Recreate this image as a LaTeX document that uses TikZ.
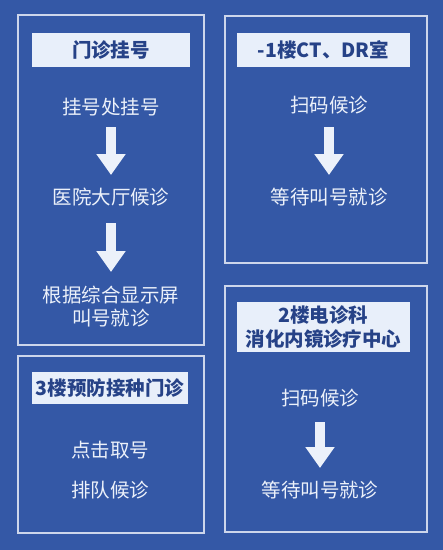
\documentclass[tikz,border=0pt]{standalone}
\usepackage{fontspec}
\usetikzlibrary{arrows.meta}
\newfontfamily\cjkfont{Noto Sans CJK SC}
\definecolor{bgblue}{RGB}{52,88,166}
\definecolor{hdrfill}{RGB}{232,239,250}
\definecolor{hdrtext}{RGB}{38,66,135}
\definecolor{txtwhite}{RGB}{236,241,250}
\definecolor{framecol}{RGB}{205,214,235}

\begin{document}
\begin{tikzpicture}[x=1pt,y=-1pt,font=\cjkfont\fontsize{19.5}{23}\selectfont,
panel/.style={draw=framecol,line width=1.2pt,inner sep=0pt},
hdr/.style={fill=hdrfill,text=hdrtext,font=\cjkfont\bfseries\fontsize{19.5}{24}\selectfont,inner sep=0pt,align=center},
txt/.style={text=txtwhite,align=center,inner sep=1pt},
blk/.style={-{Triangle[width=28pt,length=21pt]},line width=10pt,draw=txtwhite}]

\fill[bgblue](0,0)rectangle(443,550);
\useasboundingbox(0,0)rectangle(443,550);

\node[panel,minimum width=186pt,minimum height=330pt] (p1) at(111,180){};
\node[panel,minimum width=202pt,minimum height=247pt] (p2) at(326,139.5){};
\node[panel,minimum width=186pt,minimum height=177pt] (p3) at(111,444.5){};
\node[panel,minimum width=202pt,minimum height=246pt] (p4) at(326,409){};

\node[hdr,minimum width=158pt,minimum height=34pt] (h1) at(111,50){门诊挂号};
\node[hdr,minimum width=173pt,minimum height=34pt] (h2) at(323.5,50){-1楼CT、DR室};
\node[hdr,minimum width=156pt,minimum height=32pt] (h3) at(110,388){3楼预防接种门诊};
\node[hdr,minimum width=173pt,minimum height=50pt] (h4) at(323.5,327){2楼电诊科\\消化内镜诊疗中心};

\node[txt] (a1) at(111,107){挂号处挂号};
\node[txt] (a2) at(111,197){医院大厅候诊};
\node[txt] (a3) at(111,306.5){根据综合显示屏\\叫号就诊};
\node[txt] (b1) at(329,105){扫码候诊};
\node[txt] (b2) at(329,197){等待叫号就诊};
\node[txt] (c1) at(110,450){点击取号};
\node[txt] (c2) at(110,490){排队候诊};
\node[txt] (d1) at(320,398){扫码候诊};
\node[txt] (d2) at(320,490){等待叫号就诊};

\draw[blk,shorten <=20pt,shorten >=22pt](a1.center)--(a2.center);
\draw[blk,shorten <=26pt,shorten >=34.5pt](a2.center)--(a3.center);
\draw[blk,shorten <=22pt,shorten >=22pt](b1.center)--(b2.center);
\draw[blk,shorten <=24pt,shorten >=22pt](d1.center)--(d2.center);
\end{tikzpicture}
\end{document}
